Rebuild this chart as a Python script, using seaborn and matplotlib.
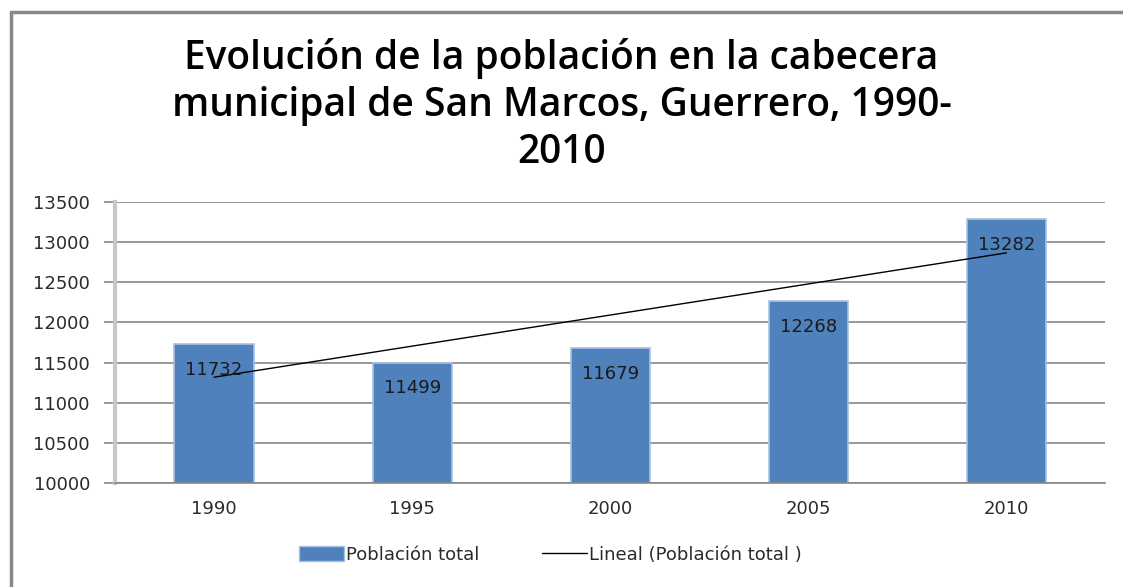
import numpy as np
import pandas as pd
import matplotlib
matplotlib.use("Agg")
import matplotlib.pyplot as plt
import seaborn as sns
from matplotlib.lines import Line2D
from matplotlib.patches import Patch

# datos
years = ["1990", "1995", "2000", "2005", "2010"]
population = [11732, 11499, 11679, 12268, 13282]
title = "Evolución de la población en la cabecera\nmunicipal de San Marcos, Guerrero, 1990-\n2010"
y_ticks = [10000, 10500, 11000, 11500, 12000, 12500, 13000, 13500]

df = pd.DataFrame({"Año": years, "Población total": population})

sns.set_theme(style="white")
plt.rcParams["font.family"] = ["DejaVu Sans"]

fig = plt.figure(figsize=(11.23, 5.87), dpi=100)
ax = fig.add_axes([0.1024, 0.177, 0.882, 0.479])

sns.barplot(data=df, x="Año", y="Población total", color="#4F81BD", saturation=1,
            width=0.4, edgecolor="#A9C1E3", linewidth=1.2, ax=ax, zorder=2)

# linea de tendencia (ajuste lineal)
idx = np.arange(len(years))
slope, intercept = np.polyfit(idx, population, 1)
ax.plot(idx, intercept + slope * idx, color="black", lw=1.0, zorder=4)

# etiquetas de datos
for i, v in enumerate(population):
    ax.annotate(str(v), (i, v), xytext=(0, -12), textcoords="offset points",
                ha="center", va="top", fontsize=13, color="#1a1a1a", zorder=5)

ax.set_ylim(10000, 13500)
ax.set_yticks(y_ticks)
ax.set_xlim(-0.5, len(years) - 0.5)
ax.yaxis.grid(True, color="#868686", lw=1.2, zorder=0)
ax.set_axisbelow(True)
ax.set_xlabel("")
ax.set_ylabel("")
ax.tick_params(axis="y", labelsize=13, colors="#2b2b2b", length=8, width=1.2,
               color="#868686", pad=10, left=True)
ax.tick_params(axis="x", labelsize=13, colors="#2b2b2b", length=0, pad=12)

for s in ["top", "right"]:
    ax.spines[s].set_visible(False)
ax.spines["left"].set_color("#C8C8C8")
ax.spines["left"].set_linewidth(3)
ax.spines["bottom"].set_color("#868686")
ax.spines["bottom"].set_linewidth(1.2)

fig.text(0.5, 0.82, title, ha="center", va="center", fontsize=28,
         fontweight="semibold", family="Open Sans", color="black", linespacing=1.24)

handles = [Patch(facecolor="#4F81BD", edgecolor="#A9C1E3", label="Población total"),
           Line2D([0], [0], color="black", lw=1.0, label="Lineal (Población total )")]
fig.legend(handles=handles, loc="center", bbox_to_anchor=(0.49, 0.055), ncol=2,
           frameon=False, fontsize=13, handlelength=2.5, handleheight=0.9,
           handletextpad=0.1, columnspacing=3.5, labelcolor="#2b2b2b")

# marco del grafico
fig.add_artist(Line2D([0.0098, 0.0098], [0, 0.98], color="#888888", lw=2.5))
fig.add_artist(Line2D([0.0098, 1.0], [0.98, 0.98], color="#888888", lw=2.5))

fig.savefig("out.png", dpi=100)
